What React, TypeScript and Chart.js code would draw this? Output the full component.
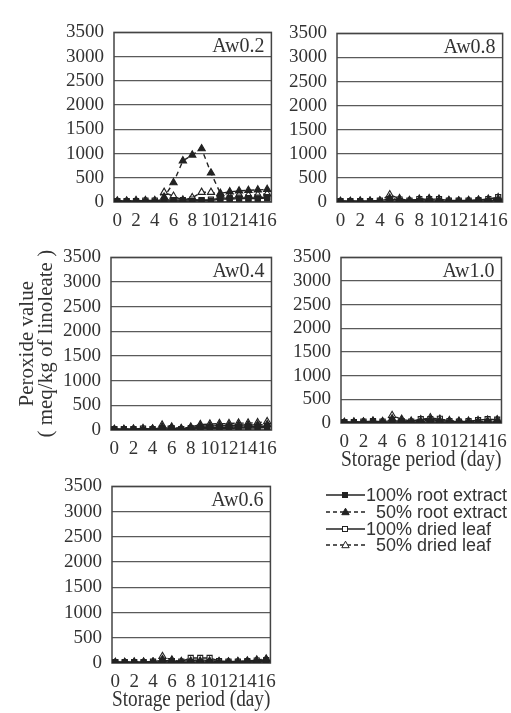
import React, { useEffect, useRef } from 'react';
import { Chart, registerables } from 'chart.js';

Chart.register(...registerables);

// ---------- data ----------
const days = [0, 1, 2, 3, 4, 5, 6, 7, 8, 9, 10, 11, 12, 13, 14, 15, 16];
const xTicks = [0, 2, 4, 6, 8, 10, 12, 14, 16];
const yTicks = [0, 500, 1000, 1500, 2000, 2500, 3000, 3500];
const seriesNames = ['100% root extract', '50% root extract', '100% dried leaf', '50% dried leaf'];
const xTitle = 'Storage period (day)';
const yTitle = ['Peroxide value', '( meq/kg of linoleate )'];

// Aw0.2
const aw02Root100 = [10, 10, 10, 10, 10, 20, 20, 20, 20, 30, 30, 60, 60, 70, 70, 70, 80];
const aw02Root50 = [10, 10, 10, 10, 10, 100, 400, 850, 970, 1100, 600, 180, 210, 230, 240, 250, 260];
const aw02Leaf100 = [20, 20, 20, 30, 30, 40, 40, 40, 50, 40, 50, 80, 80, 90, 80, 90, 100];
const aw02Leaf50 = [20, 20, 30, 30, 30, 200, 120, 40, 90, 200, 200, 150, 110, 150, 140, 150, 170];
// Aw0.8
const aw08Root100 = [10, 10, 10, 10, 10, 20, 20, 10, 20, 20, 20, 10, 10, 10, 20, 20, 30];
const aw08Root50 = [10, 10, 10, 10, 20, 80, 40, 20, 40, 50, 40, 20, 20, 20, 30, 40, 60];
const aw08Leaf100 = [20, 20, 20, 20, 30, 60, 50, 30, 60, 60, 60, 30, 30, 30, 40, 60, 100];
const aw08Leaf50 = [10, 10, 20, 20, 20, 150, 70, 30, 60, 70, 60, 30, 20, 30, 40, 60, 90];
// Aw0.4
const aw04Root100 = [10, 10, 10, 10, 10, 20, 20, 10, 20, 30, 30, 30, 30, 40, 40, 40, 50];
const aw04Root50 = [10, 10, 10, 10, 20, 60, 40, 20, 40, 80, 80, 90, 90, 100, 100, 100, 110];
const aw04Leaf100 = [20, 20, 20, 30, 20, 40, 40, 20, 40, 50, 50, 50, 60, 60, 60, 70, 80];
const aw04Leaf50 = [10, 10, 20, 30, 20, 100, 60, 30, 60, 110, 120, 130, 130, 140, 140, 150, 170];
// Aw1.0
const aw10Root100 = [10, 10, 10, 20, 10, 20, 20, 10, 20, 20, 20, 10, 10, 10, 20, 20, 20];
const aw10Root50 = [10, 10, 20, 30, 20, 90, 50, 20, 40, 70, 50, 30, 20, 20, 30, 40, 50];
const aw10Leaf100 = [20, 20, 30, 40, 30, 50, 40, 30, 80, 80, 90, 40, 30, 40, 60, 80, 70];
const aw10Leaf50 = [10, 20, 20, 40, 30, 160, 80, 40, 70, 110, 80, 50, 40, 40, 50, 60, 70];
// Aw0.6
const aw06Root100 = [10, 10, 10, 10, 10, 20, 20, 10, 20, 20, 20, 10, 10, 10, 20, 20, 30];
const aw06Root50 = [10, 10, 10, 10, 20, 70, 40, 20, 40, 40, 40, 20, 20, 20, 30, 40, 60];
const aw06Leaf100 = [20, 20, 20, 20, 30, 50, 40, 30, 100, 100, 100, 40, 30, 30, 40, 50, 60];
const aw06Leaf50 = [10, 10, 20, 20, 20, 130, 60, 30, 50, 60, 50, 30, 20, 30, 40, 60, 80];

// ---------- styling ----------
const SERIF = "'Liberation Serif', 'Times New Roman', serif";
const SANS = "'Liberation Sans', Arial, sans-serif";
const INK = '#333333';
const GRID = '#5a5a5a';

type Spec = {
  name: string;
  area: [number, number, number, number]; // left, top, right, bottom of plot area
  series: number[][];
  xTitle?: 'center' | 'end';
  yTitle?: boolean;
};

const panels: Spec[] = [
  { name: 'Aw0.2', area: [114, 23, 273, 202], series: [aw02Root100, aw02Root50, aw02Leaf100, aw02Leaf50] },
  { name: 'Aw0.8', area: [337, 24, 504, 202], series: [aw08Root100, aw08Root50, aw08Leaf100, aw08Leaf50] },
  { name: 'Aw0.4', area: [111, 248, 273, 430], series: [aw04Root100, aw04Root50, aw04Leaf100, aw04Leaf50], yTitle: true },
  { name: 'Aw1.0', area: [341, 248, 503, 423], series: [aw10Root100, aw10Root50, aw10Leaf100, aw10Leaf50], xTitle: 'end' },
  { name: 'Aw0.6', area: [112, 477, 272, 663], series: [aw06Root100, aw06Root50, aw06Leaf100, aw06Leaf50], xTitle: 'center' },
];

const seriesStyle = [
  { dash: [] as number[], point: 'rect', fill: '#222222', radius: 3.6 },
  { dash: [5, 4], point: 'triangle', fill: '#222222', radius: 4.2 },
  { dash: [] as number[], point: 'rect', fill: '#ffffff', radius: 3.6 },
  { dash: [5, 4], point: 'triangle', fill: '#ffffff', radius: 4.2 },
];

const framePlugin = {
  id: 'frame',
  beforeDatasetsDraw(chart: any) {
    const { ctx, chartArea: a } = chart;
    ctx.save();
    ctx.strokeStyle = '#444444';
    ctx.lineWidth = 1.5;
    ctx.strokeRect(a.left, a.top, a.right - a.left, a.bottom - a.top);
    ctx.restore();
  },
};

const namePlugin = {
  id: 'panelName',
  afterDraw(chart: any, _args: any, opts: any) {
    const { ctx, chartArea: a } = chart;
    ctx.save();
    ctx.font = `20px ${SERIF}`;
    ctx.fillStyle = INK;
    ctx.textAlign = 'right';
    ctx.textBaseline = 'middle';
    ctx.fillText(opts.text, a.right - 7, a.top + 14);
    ctx.restore();
  },
};

function Panel({ spec }: { spec: Spec }) {
  const ref = useRef<HTMLCanvasElement>(null);
  const [L, T, R, B] = spec.area;
  const YW = spec.yTitle ? L : 55;
  const PT = 12;
  const PR = 12;
  const XH = spec.xTitle ? 50 : 32;
  const left = L - YW;
  const top = T - PT;
  const width = YW + (R - L) + PR;
  const height = PT + (B - T) + XH;

  useEffect(() => {
    if (!ref.current) return;
    const chart = new Chart(ref.current, {
      type: 'line',
      data: {
        datasets: seriesNames.map((label, i) => ({
          label,
          data: days.map((d, j) => ({ x: d, y: spec.series[i][j] })),
          borderColor: '#222222',
          borderWidth: 1.4,
          borderDash: seriesStyle[i].dash,
          pointStyle: seriesStyle[i].point as any,
          pointRadius: seriesStyle[i].radius,
          pointBackgroundColor: seriesStyle[i].fill,
          pointBorderColor: '#222222',
          pointBorderWidth: 1.1,
          fill: false,
          tension: 0,
        })),
      },
      options: {
        responsive: false,
        animation: false,
        devicePixelRatio: 1,
        layout: { padding: { top: PT, right: PR, left: 0, bottom: 0 } },
        plugins: {
          legend: { display: false },
          tooltip: { enabled: false },
          panelName: { text: spec.name },
        } as any,
        scales: {
          x: {
            type: 'linear',
            min: -0.35,
            max: 16.45,
            afterBuildTicks: (s: any) => {
              s.ticks = xTicks.map((v) => ({ value: v }));
            },
            afterFit: (s: any) => {
              s.height = XH;
            },
            grid: { display: false, drawTicks: false },
            border: { display: false },
            ticks: {
              autoSkip: false,
              maxRotation: 0,
              minRotation: 0,
              padding: 8,
              color: INK,
              font: { family: SERIF, size: 19 },
              callback: (v: any) => String(v),
            },
            title: spec.xTitle
              ? {
                  display: true,
                  text: xTitle,
                  align: spec.xTitle,
                  color: INK,
                  font: { family: SERIF, size: 22.5, lineHeight: 1 },
                  padding: { top: 0, bottom: 2 },
                }
              : { display: false },
          },
          y: {
            type: 'linear',
            min: 0,
            max: 3500,
            afterBuildTicks: (s: any) => {
              s.ticks = yTicks.map((v) => ({ value: v }));
            },
            afterFit: (s: any) => {
              s.width = YW;
            },
            grid: { color: GRID, lineWidth: 1.2, drawTicks: false },
            border: { display: false },
            ticks: {
              autoSkip: false,
              padding: 10,
              color: INK,
              font: { family: SERIF, size: 19 },
              callback: (v: any) => String(v),
            },
            title: spec.yTitle
              ? {
                  display: true,
                  text: yTitle,
                  color: INK,
                  font: { family: SERIF, size: 21, lineHeight: 0.9 },
                  padding: { top: 18.5, bottom: 0 },
                }
              : { display: false },
          },
        },
      },
      plugins: [framePlugin, namePlugin],
    });
    return () => chart.destroy();
  }, []);

  return (
    <canvas
      ref={ref}
      width={width}
      height={height}
      style={{ position: 'absolute', left, top, width, height }}
    />
  );
}

function LegendSymbol({ i }: { i: number }) {
  const st = seriesStyle[i];
  const dash = st.dash.length ? '4,3' : undefined;
  return (
    <svg width={39} height={12} style={{ display: 'block', flex: 'none' }}>
      <line x1={0} y1={6} x2={39} y2={6} stroke="#222" strokeWidth={1.3} strokeDasharray={dash} />
      {st.point === 'rect' ? (
        <rect x={16.5} y={3.5} width={5} height={5} fill={st.fill} stroke="#222" strokeWidth={1} />
      ) : (
        <polygon points="19.5,2.2 23.2,8.7 15.8,8.7" fill={st.fill} stroke="#222" strokeWidth={1} />
      )}
    </svg>
  );
}

export default function App() {
  return (
    <div
      style={{
        position: 'absolute',
        left: 0,
        top: 0,
        width: 511,
        height: 713,
        overflow: 'hidden',
        background: '#ffffff',
      }}
    >
      {panels.map((p) => (
        <Panel key={p.name} spec={p} />
      ))}
      <div style={{ position: 'absolute', left: 326, top: 487, fontFamily: SANS, fontSize: 18, color: INK }}>
        {seriesNames.map((n, i) => (
          <div key={n} style={{ display: 'flex', alignItems: 'center', height: 16.7, whiteSpace: 'nowrap' }}>
            <LegendSymbol i={i} />
            <span style={{ marginLeft: n.startsWith('100') ? 1 : 11, lineHeight: '16px' }}>{n}</span>
          </div>
        ))}
      </div>
    </div>
  );
}
